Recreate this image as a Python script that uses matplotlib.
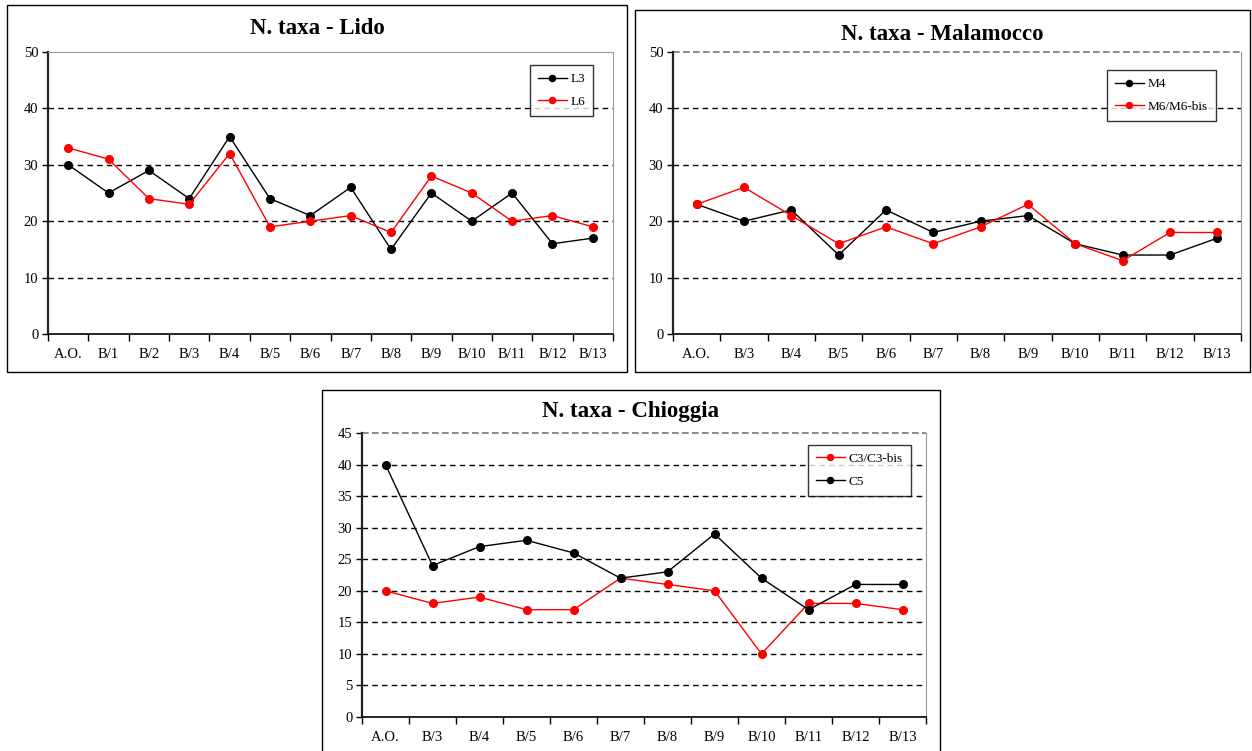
import matplotlib.pyplot as plt
from matplotlib.patches import Rectangle
from matplotlib.ticker import FixedLocator

plt.rcParams['font.family'] = ['Liberation Serif', 'DejaVu Serif']

# Lido
lido_cats = ['A.O.', 'B/1', 'B/2', 'B/3', 'B/4', 'B/5', 'B/6', 'B/7', 'B/8',
             'B/9', 'B/10', 'B/11', 'B/12', 'B/13']
lido_l3 = [30, 25, 29, 24, 35, 24, 21, 26, 15, 25, 20, 25, 16, 17]
lido_l6 = [33, 31, 24, 23, 32, 19, 20, 21, 18, 28, 25, 20, 21, 19]

# Malamocco
mal_cats = ['A.O.', 'B/3', 'B/4', 'B/5', 'B/6', 'B/7', 'B/8', 'B/9', 'B/10',
            'B/11', 'B/12', 'B/13']
mal_m4 = [23, 20, 22, 14, 22, 18, 20, 21, 16, 14, 14, 17]
mal_m6 = [23, 26, 21, 16, 19, 16, 19, 23, 16, 13, 18, 18]

# Chioggia
chi_cats = ['A.O.', 'B/3', 'B/4', 'B/5', 'B/6', 'B/7', 'B/8', 'B/9', 'B/10',
            'B/11', 'B/12', 'B/13']
chi_c3 = [20, 18, 19, 17, 17, 22, 21, 20, 10, 18, 18, 17]
chi_c5 = [40, 24, 27, 28, 26, 22, 23, 29, 22, 17, 21, 21]

W, H = 1252, 751
fig = plt.figure(figsize=(W / 100, H / 100), dpi=100)


def px_axes(x0, y0, x1, y1):
    # pixel box (top-left origin) -> figure fraction axes
    return fig.add_axes([x0 / W, 1 - y1 / H, (x1 - x0) / W, (y1 - y0) / H])


def px_box(x0, y0, x1, y1, title, ty):
    fig.patches.append(Rectangle((x0 / W, 1 - y1 / H), (x1 - x0) / W, (y1 - y0) / H,
                                 transform=fig.transFigure, fill=False,
                                 edgecolor='black', linewidth=1.0))
    fig.text((x0 + x1) / 2 / W, 1 - ty / H, title, ha='center', va='center',
             fontsize=16.5, fontweight='bold')


def panel(ax, cats, series, ymax, ystep, legend_anchor, dashed_top):
    n = len(cats)
    x = list(range(n))
    for vals, col, lab in series:
        ax.plot(x, vals, color=col, lw=1.0, marker='o', ms=5.5, label=lab)
    ax.set_xlim(-0.5, n - 0.5)
    ax.set_ylim(0, ymax)
    ax.set_yticks(range(0, ymax + 1, ystep))
    for yv in range(ystep, ymax, ystep):
        ax.axhline(yv, color='black', lw=1.0, ls=(0, (4, 3)), zorder=0)
    if dashed_top:
        ax.spines['top'].set_visible(False)
        ax.axhline(ymax, color='#777777', lw=1.2, ls=(0, (4, 2)), zorder=0,
                   clip_on=False)
    else:
        ax.spines['top'].set_color('#999999')
    ax.set_xticks(x)
    ax.set_xticklabels(cats)
    ax.xaxis.set_minor_locator(FixedLocator([i - 0.5 for i in range(n + 1)]))
    ax.tick_params(axis='x', which='major', length=0, pad=10, labelsize=10.5)
    ax.tick_params(axis='x', which='minor', length=5, width=1, direction='out')
    ax.tick_params(axis='y', length=4, width=1, direction='out', labelsize=10.5, pad=3)
    ax.spines['right'].set_color('#999999')
    ax.spines['left'].set_linewidth(1.6)
    ax.spines['left'].set_color('#222222')
    ax.spines['bottom'].set_linewidth(1.2)
    ax.set_facecolor('none')
    leg = ax.legend(loc='upper right', bbox_to_anchor=legend_anchor, fontsize=9.5,
                    frameon=True, fancybox=False, handlelength=2.2, handletextpad=0.3,
                    borderpad=0.6, labelspacing=0.8, markerscale=0.8, borderaxespad=0)
    leg.get_frame().set_edgecolor('black')
    leg.get_frame().set_linewidth(1.0)


ax1 = px_axes(48, 52, 613, 334)
panel(ax1, lido_cats, [(lido_l3, 'black', 'L3'), (lido_l6, 'red', 'L6')],
      50, 10, (0.965, 0.954), False)
px_box(7, 5, 627, 372, 'N. taxa - Lido', 29)

ax2 = px_axes(673, 52, 1241, 334)
panel(ax2, mal_cats, [(mal_m4, 'black', 'M4'), (mal_m6, 'red', 'M6/M6-bis')],
      50, 10, (0.956, 0.936), True)
px_box(635, 10, 1250, 372, 'N. taxa - Malamocco', 34)

ax3 = px_axes(362, 433, 926, 717)
panel(ax3, chi_cats, [(chi_c3, 'red', 'C3/C3-bis'), (chi_c5, 'black', 'C5')],
      45, 5, (0.973, 0.958), True)
px_box(322, 390, 940, 760, 'N. taxa - Chioggia', 411)

fig.savefig('out.png', dpi=100)
